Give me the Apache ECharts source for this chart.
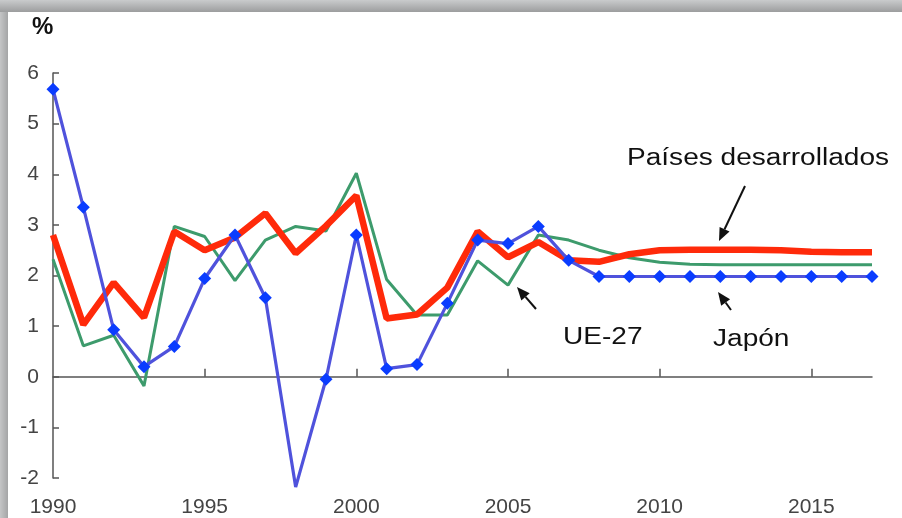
<!DOCTYPE html>
<html>
<head>
<meta charset="utf-8">
<script src="https://cdn.jsdelivr.net/npm/echarts@6/dist/echarts.min.js"></script>
<style>
  html, body { margin: 0; padding: 0; background: #fff; }
  #chart { width: 902px; height: 518px; }
</style>
</head>
<body>
<div id="chart"></div>
<script>
// años
const years = [1990, 1991, 1992, 1993, 1994, 1995, 1996, 1997, 1998, 1999,
  2000, 2001, 2002, 2003, 2004, 2005, 2006, 2007, 2008, 2009,
  2010, 2011, 2012, 2013, 2014, 2015, 2016, 2017]

// Países desarrollados
const desarrollados = [2.8, 1.03, 1.86, 1.17, 2.87, 2.5, 2.75, 3.23, 2.44, 2.98,
  3.58, 1.15, 1.23, 1.76, 2.87, 2.36, 2.66, 2.3, 2.27, 2.42,
  2.5, 2.51, 2.51, 2.51, 2.5, 2.47, 2.46, 2.46]

// UE-27
const ue27 = [2.32, 0.61, 0.82, -0.18, 2.97, 2.77, 1.9, 2.7, 2.97, 2.88,
  4.02, 1.92, 1.22, 1.22, 2.29, 1.81, 2.8, 2.7, 2.5, 2.35,
  2.26, 2.22, 2.21, 2.21, 2.21, 2.21, 2.21, 2.21]

// Japón
const japon = [5.68, 3.35, 0.93, 0.2, 0.6, 1.94, 2.8, 1.56, -2.18, -0.05,
  2.8, 0.16, 0.24, 1.45, 2.7, 2.63, 2.97, 2.3, 1.98, 1.98,
  1.98, 1.98, 1.98, 1.98, 1.98, 1.98, 1.98, 1.98]

const yTicks = [-2, -1, 0, 1, 2, 3, 4, 5, 6]
const xTicks = [1995, 2000, 2005, 2010, 2015]
const noMarkerYears = [1998]

const pair = (arr) => years.map((y, i) => [y, arr[i]])

const EC = echarts.init(document.getElementById('chart'))

const arrow = (x1, y1, x2, y2) => {
  // flecha de anotación: línea + punta en (x2, y2)
  const a = Math.atan2(y2 - y1, x2 - x1)
  const L = 13, W = 5.5
  const bx = x2 - L * Math.cos(a), by = y2 - L * Math.sin(a)
  const px = -Math.sin(a) * W, py = Math.cos(a) * W
  return [
    { type: 'line', shape: { x1: x1, y1: y1, x2: bx, y2: by }, style: { stroke: '#111', lineWidth: 2 } },
    { type: 'polygon', shape: { points: [[x2, y2], [bx + px, by + py], [bx - px, by - py]] }, style: { fill: '#111' } }
  ]
}

const font = 'Liberation Sans, Arial, sans-serif'
const label = (text, x, y) => ({
  type: 'text', x: x, y: y, scaleX: 1.22,
  style: { text: text, font: '23px ' + font, fill: '#111' }
})

EC.setOption({
  backgroundColor: '#fff',
  animation: false,
  grid: { left: 53, right: 30, top: 73, bottom: 40 },
  xAxis: [
    {
      type: 'value', min: 1990, max: 2017, interval: 5,
      axisLine: { onZero: true, lineStyle: { color: '#555', width: 1.5 } },
      axisTick: { inside: true, length: 8, customValues: xTicks, lineStyle: { color: '#555', width: 1.5 } },
      axisLabel: { show: false },
      splitLine: { show: false }
    },
    {
      type: 'value', min: 1990, max: 2017, interval: 5, position: 'bottom',
      axisLine: { show: false, onZero: false },
      axisTick: { show: false },
      axisLabel: {
        margin: 19, color: '#444', fontSize: 21, fontFamily: font,
        showMaxLabel: false,
        formatter: (v) => String(v)
      },
      splitLine: { show: false }
    }
  ],
  yAxis: {
    type: 'value', min: yTicks[0], max: yTicks[yTicks.length - 1], interval: 1,
    axisLine: { show: true, onZero: false, lineStyle: { color: '#555', width: 1.5 } },
    axisTick: { show: true, inside: true, length: 6, lineStyle: { color: '#555', width: 1.5 } },
    axisLabel: { margin: 14, color: '#444', fontSize: 21, fontFamily: font },
    splitLine: { show: false }
  },
  series: [
    {
      name: 'UE-27', type: 'line', xAxisIndex: 0, data: pair(ue27),
      symbol: 'none', clip: false, z: 2,
      lineStyle: { color: '#3d9b6c', width: 3 }
    },
    {
      name: 'Países desarrollados', type: 'line', xAxisIndex: 0, data: pair(desarrollados),
      symbol: 'none', clip: false, z: 3,
      lineStyle: { color: '#ff2a0a', width: 6.5 }
    },
    {
      name: 'Japón', type: 'line', xAxisIndex: 0,
      data: years.map((y, i) => {
        const d = { value: [y, japon[i]] }
        if (noMarkerYears.includes(y)) d.symbol = 'none'
        return d
      }),
      symbol: 'diamond', symbolSize: 13, clip: false, z: 4,
      itemStyle: { color: '#0a3cff' },
      lineStyle: { color: '#4f52dc', width: 3.2 }
    }
  ],
  graphic: [
    { type: 'rect', shape: { x: 0, y: 0, width: 902, height: 12 },
      style: { fill: new echarts.graphic.LinearGradient(0, 0, 0, 1, [
        { offset: 0, color: '#c9cbcc' }, { offset: 1, color: '#9c9d9e' }]) } },
    { type: 'rect', shape: { x: 0, y: 12, width: 8, height: 506 },
      style: { fill: new echarts.graphic.LinearGradient(0, 0, 1, 0, [
        { offset: 0, color: '#c4c5c6' }, { offset: 1, color: '#a4a5a6' }]) } },
    { type: 'text', x: 32, y: 15,
      style: { text: '%', font: 'bold 24px ' + font, fill: '#111' } },
    label('Países desarrollados', 627, 147),
    label('UE-27', 563, 326),
    label('Japón', 713, 328),
    ...arrow(745, 186, 719, 241),
    ...arrow(536, 309, 517, 287),
    ...arrow(731, 310, 718, 292)
  ]
})
</script>
</body>
</html>
